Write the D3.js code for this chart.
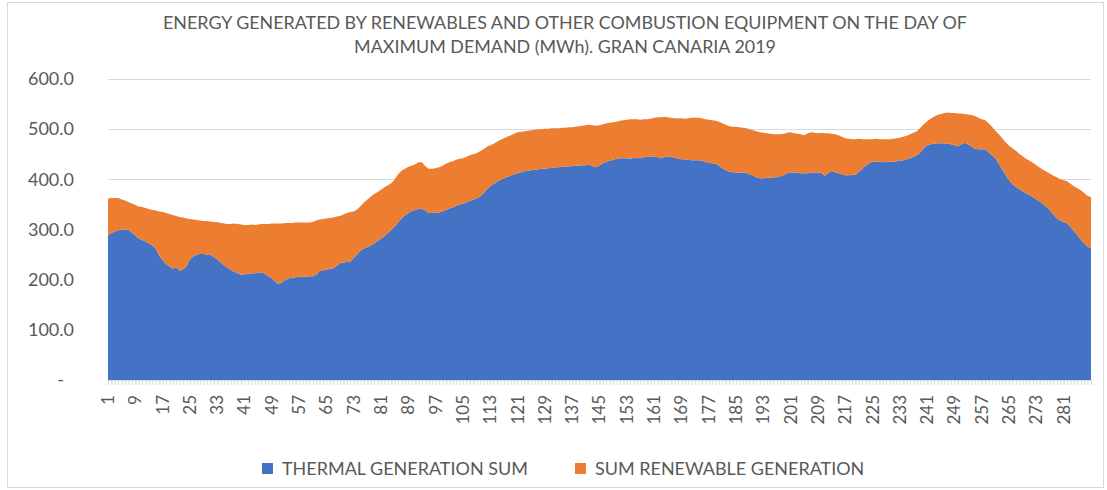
<!DOCTYPE html>
<html>
<head>
<meta charset="utf-8">
<script src="https://cdn.jsdelivr.net/npm/d3@7"></script>
<style>
  body { margin: 0; background: #fff; }
  text { font-family: Lato, "Open Sans", sans-serif; fill: #595959; }
</style>
</head>
<body>
<div id="chart"></div>
<script>
// 5-minute intervals over the day
var categories = d3.range(1, 290);

var thermal = [
  289, 293, 296, 298, 300, 300, 299, 294,
  288, 282, 279, 276, 272, 268, 262, 248,
  239, 231, 226, 222, 225, 218, 221, 226,
  240, 246, 250, 251, 251, 250, 249, 245,
  240, 234, 229, 224, 220, 216, 213, 210,
  211, 212, 213, 213, 214, 215, 212, 207,
  203, 196, 191, 195, 200, 203, 204, 205,
  206, 206, 206, 207, 207, 210, 217, 219,
  220, 222, 223, 227, 233, 234, 235, 236,
  243, 250, 258, 262, 265, 268, 272, 277,
  282, 287, 293, 299, 306, 314, 322, 328,
  333, 337, 339, 341, 342, 338, 333, 333,
  334, 334, 336, 339, 342, 344, 347, 350,
  352, 354, 357, 360, 362, 366, 372, 380,
  386, 391, 395, 399, 402, 405, 407, 410,
  412, 414, 416, 417, 418, 419, 420, 421,
  421, 422, 423, 424, 424, 425, 425, 426,
  426, 427, 427, 428, 428, 429, 426, 424,
  428, 432, 435, 437, 439, 441, 442, 442,
  442, 441, 443, 442, 443, 444, 445, 445,
  446, 444, 442, 444, 446, 445, 443, 441,
  440, 440, 439, 438, 438, 438, 437, 435,
  433, 432, 431, 427, 422, 418, 415, 414,
  414, 413, 413, 413, 410, 407, 404, 402,
  402, 403, 403, 404, 404, 406, 409, 412,
  414, 413, 413, 412, 412, 412, 413, 413,
  413, 413, 407, 412, 417, 414, 412, 410,
  408, 408, 409, 409, 415, 421, 427, 432,
  435, 435, 435, 434, 435, 435, 435, 436,
  437, 438, 440, 442, 445, 448, 454, 462,
  468, 470, 471, 472, 472, 472, 471, 470,
  468, 466, 470, 473, 470, 465, 461, 460,
  460, 460, 454, 448, 442, 431, 419, 408,
  398, 390, 385, 380, 376, 372, 369, 365,
  360, 356, 350, 345, 338, 330, 322, 318,
  315, 312, 305, 297, 289, 280, 272, 266,
  263
];

var renewable = [
  73, 70, 67, 65, 60, 58, 56, 58,
  61, 64, 66, 67, 69, 71, 76, 88,
  96, 102, 105, 107, 102, 107, 103, 96,
  81, 74, 69, 67, 66, 67, 67, 70,
  75, 79, 83, 87, 91, 96, 98, 100,
  98, 97, 97, 96, 96, 96, 99, 104,
  109, 116, 121, 117, 113, 110, 109, 109,
  108, 108, 108, 107, 108, 108, 103, 102,
  102, 101, 101, 99, 94, 96, 98, 99,
  93, 90, 89, 92, 95, 98, 99, 98,
  97, 97, 95, 93, 94, 96, 95, 93,
  92, 90, 91, 93, 92, 88, 88, 88,
  88, 90, 91, 92, 92, 92, 92, 91,
  90, 91, 91, 90, 90, 90, 88, 85,
  82, 80, 80, 80, 80, 80, 81, 81,
  82, 81, 80, 80, 80, 80, 80, 79,
  80, 79, 79, 78, 78, 78, 78, 78,
  78, 78, 79, 79, 80, 80, 82, 83,
  80, 78, 77, 76, 75, 74, 75, 76,
  77, 79, 77, 78, 76, 76, 75, 76,
  77, 80, 82, 81, 78, 78, 79, 81,
  82, 81, 83, 85, 85, 85, 85, 85,
  86, 86, 86, 88, 90, 91, 91, 91,
  91, 91, 90, 89, 90, 91, 92, 92,
  91, 89, 88, 86, 86, 84, 82, 81,
  80, 79, 78, 78, 76, 80, 81, 80,
  79, 80, 85, 80, 74, 76, 76, 75,
  74, 73, 71, 71, 66, 59, 53, 48,
  45, 46, 45, 46, 45, 45, 46, 46,
  46, 47, 47, 48, 48, 48, 49, 48,
  48, 51, 54, 56, 58, 60, 62, 62,
  64, 65, 61, 57, 59, 63, 65, 63,
  60, 58, 58, 57, 55, 59, 63, 66,
  69, 72, 72, 71, 70, 69, 68, 68,
  68, 67, 69, 70, 73, 77, 82, 82,
  83, 84, 86, 89, 93, 98, 101, 101,
  102
];

var tickLabels = [1, 9, 17, 25, 33, 41, 49, 57, 65, 73, 81, 89, 97, 105, 113, 121, 129,
  137, 145, 153, 161, 169, 177, 185, 193, 201, 209, 217, 225, 233, 241, 249, 257, 265, 273, 281];
var yTicks = [0, 100, 200, 300, 400, 500, 600];
var seriesNames = ["THERMAL GENERATION SUM", "SUM RENEWABLE GENERATION"];
var colors = ["#4472C4", "#ED7D31"];

var width = 1107, height = 490;
var plot = {left: 108, right: 1091, top: 79, bottom: 380};

var svg = d3.select("#chart").append("svg")
  .attr("width", width)
  .attr("height", height);

// chart border
svg.append("rect")
  .attr("x", 7.5).attr("y", 2.5)
  .attr("width", 1096).attr("height", 485)
  .attr("fill", "none")
  .attr("stroke", "#d9d9d9");

var x = d3.scalePoint()
  .domain(categories)
  .range([plot.left, plot.right]);

var y = d3.scaleLinear()
  .domain([0, 600])
  .range([plot.bottom, plot.top]);

// gridlines
svg.append("g")
  .selectAll("line")
  .data(yTicks.filter(function(d) { return d > 0; }))
  .enter().append("line")
  .attr("x1", plot.left).attr("x2", plot.right)
  .attr("y1", function(d) { return Math.round(y(d)) + 0.5; })
  .attr("y2", function(d) { return Math.round(y(d)) + 0.5; })
  .attr("stroke", "#d9d9d9")
  .attr("stroke-width", 1);

var data = categories.map(function(c, i) {
  return {cat: c, thermal: thermal[i], renewable: renewable[i]};
});

var stacked = d3.stack().keys(["thermal", "renewable"])(data);

var area = d3.area()
  .x(function(d) { return x(d.data.cat); })
  .y0(function(d) { return y(d[0]); })
  .y1(function(d) { return y(d[1]); });

svg.append("g")
  .selectAll("path")
  .data(stacked)
  .enter().append("path")
  .attr("fill", function(d, i) { return colors[i]; })
  .attr("d", area);

// category axis with a tick for every interval
var xAxis = d3.axisBottom(x)
  .tickValues(categories)
  .tickSize(5)
  .tickFormat("");

var gx = svg.append("g")
  .attr("transform", "translate(0," + plot.bottom + ")")
  .call(xAxis);
gx.select(".domain").attr("stroke", "#d9d9d9");
gx.selectAll(".tick line").attr("stroke", "#d9d9d9");

svg.append("g")
  .selectAll("text")
  .data(tickLabels)
  .enter().append("text")
  .attr("transform", function(d) { return "translate(" + x(d) + ",395) rotate(-90)"; })
  .attr("dy", "0.35em")
  .style("text-anchor", "end")
  .style("font-size", "17px")
  .text(function(d) { return d; });

// value axis labels
svg.append("g")
  .selectAll("text")
  .data(yTicks)
  .enter().append("text")
  .attr("x", function(d) { return d === 0 ? 64 : 74; })
  .attr("y", function(d) { return y(d); })
  .attr("dy", "0.35em")
  .style("text-anchor", "end")
  .style("font-size", "18px")
  .text(function(d) { return d === 0 ? "-" : d.toFixed(1); });

// title
var title = svg.append("g").attr("class", "title");
var t1 = title.append("text")
  .attr("x", 565).attr("y", 29)
  .style("text-anchor", "middle")
  .style("font-size", "16px")
  .text("ENERGY GENERATED BY RENEWABLES AND OTHER COMBUSTION EQUIPMENT ON THE DAY OF");
var t2 = title.append("text")
  .attr("x", 565).attr("y", 53)
  .style("text-anchor", "middle")
  .style("font-size", "16px")
  .text("MAXIMUM DEMAND (MWh). GRAN CANARIA 2019");
var fs = 16 * 805 / t1.node().getComputedTextLength();
t1.style("font-size", fs + "px");
t2.style("font-size", fs + "px");

// legend
var legendX = [262, 575];
var legend = svg.append("g")
  .selectAll("g")
  .data(seriesNames)
  .enter().append("g")
  .attr("transform", function(d, i) { return "translate(" + legendX[i] + ",463)"; });

legend.append("rect")
  .attr("width", 11).attr("height", 11)
  .attr("fill", function(d, i) { return colors[i]; });

var legendText = legend.append("text")
  .attr("x", 20).attr("y", 5.5)
  .attr("dy", "0.35em")
  .style("font-size", "18px")
  .text(function(d) { return d; });

var lfs = 18 * 246 / legendText.nodes()[0].getComputedTextLength();
legendText.style("font-size", lfs + "px");
</script>
</body>
</html>
